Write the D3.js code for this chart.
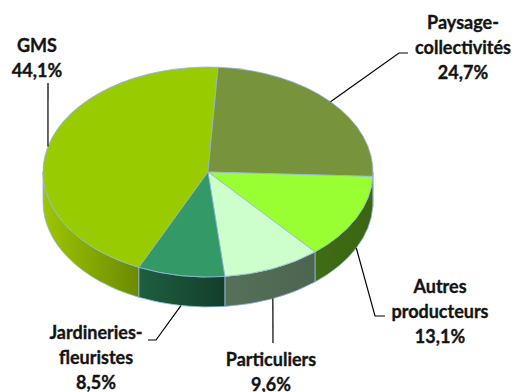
<!DOCTYPE html>
<html>
<head>
<meta charset="utf-8">
<script src="https://cdn.jsdelivr.net/npm/d3@7"></script>
<style>
  html, body { margin: 0; padding: 0; background: #fff; }
  svg { display: block; }
  text { font-family: "Lato", "Open Sans", sans-serif; font-weight: bold; fill: #141414; stroke: #141414; stroke-width: 0.35; }
</style>
</head>
<body>
<svg id="chart" width="515" height="392"></svg>
<script>
// Répartition des ventes par circuit de distribution (%)
const categories = ["GMS", "Paysage-collectivités", "Autres producteurs", "Particuliers", "Jardineries-fleuristes"];
const labelLines = [["GMS"], ["Paysage-", "collectivités"], ["Autres", "producteurs"], ["Particuliers"], ["Jardineries-", "fleuristes"]];
const values = [44.1, 24.7, 13.1, 9.6, 8.5];
const topColors = ["#99cc00", "#77933c", "#99ff33", "#ccffcc", "#339966"];
const sideColors = [["#9dc600", "#6c8a00"], ["#5d7530", "#5d7530"], ["#3f6c15", "#3b6512"], ["#567059", "#4d6550"], ["#1f5f40", "#133e2a"]];

const svg = d3.select("#chart");
const cx = 208, cy = 172, rx = 165, ry = 105, depth = 30;
const deg = Math.PI / 180;

// Angles clockwise from 12 o'clock; GMS ends just past the top.
const start0 = 3.5 * deg - (values[0] / 100) * 2 * Math.PI;
const pie = d3.pie().sort(null).value(d => d)
  .startAngle(start0).endAngle(start0 + 2 * Math.PI);
const arcs = pie(values);

const pt = (a, dy = 0) => [cx + rx * Math.sin(a), cy - ry * Math.cos(a) + dy];
const fmt = v => v.toFixed(1).replace(".", ",") + "%";

const defs = svg.append("defs");
const edge = "#93b6dc";

// Visible wall of each slice: the part lying on the front half of the ellipse
function sidePath(a0, a1) {
  const segs = [];
  for (const k of [-1, 0, 1]) {
    const s = Math.max(a0 + k * 2 * Math.PI, 90 * deg);
    const e = Math.min(a1 + k * 2 * Math.PI, 270 * deg);
    if (e > s) segs.push([s, e]);
  }
  return segs;
}

const sides = svg.append("g");
arcs.forEach((d, i) => {
  sidePath(d.startAngle, d.endAngle).forEach(([s, e], j) => {
    const p0 = pt(s), p1 = pt(e), q1 = pt(e, depth), q0 = pt(s, depth);
    const large = (e - s) > Math.PI ? 1 : 0;
    const gid = `side-${i}-${j}`;
    const xs = [p0[0], p1[0]];
    const g = defs.append("linearGradient").attr("id", gid)
      .attr("gradientUnits", "userSpaceOnUse")
      .attr("x1", d3.min(xs)).attr("x2", d3.max(xs)).attr("y1", 0).attr("y2", 0);
    g.append("stop").attr("offset", 0).attr("stop-color", sideColors[i][0]);
    g.append("stop").attr("offset", 1).attr("stop-color", sideColors[i][1]);
    const path = `M${p0}A${rx},${ry} 0 ${large} 1 ${p1}L${q1}A${rx},${ry} 0 ${large} 0 ${q0}Z`;
    sides.append("path").attr("d", path).attr("fill", `url(#${gid})`)
      .attr("stroke", edge).attr("stroke-width", 0.8).attr("stroke-linejoin", "round");
  });
});

// Top faces
const tops = svg.append("g");
arcs.forEach((d, i) => {
  const p0 = pt(d.startAngle), p1 = pt(d.endAngle);
  const large = (d.endAngle - d.startAngle) > Math.PI ? 1 : 0;
  tops.append("path")
    .attr("d", `M${cx},${cy}L${p0}A${rx},${ry} 0 ${large} 1 ${p1}Z`)
    .attr("fill", topColors[i]).attr("stroke", edge).attr("stroke-width", 0.8)
    .attr("stroke-linejoin", "round");
});

// Labels and leader lines
const labelPos = [
  { x: 37, y: 52, bend: [48, 83], tail: null },
  { x: 463, y: 29, bend: [399, 53], tail: [408, 53] },
  { x: 440, y: 293, bend: [375, 316], tail: [385, 316] },
  { x: 271, y: 366, bend: [273, 343], tail: null },
  { x: 96, y: 339, bend: [156, 340], tail: [148, 340] }
];
const lineH = 25;

const leaders = svg.append("g").attr("fill", "none").attr("stroke", "#000").attr("stroke-width", 1.2);
arcs.forEach((d, i) => {
  const mid = (d.startAngle + d.endAngle) / 2;
  const front = Math.cos(mid) < 0;
  const start = pt(mid, front ? depth : 0);
  const L = labelPos[i];
  const pts = [start, L.bend];
  if (L.tail) pts.push(L.tail);
  leaders.append("path").attr("d", d3.line()(pts));

  const t = svg.append("text").attr("text-anchor", "middle").attr("font-size", 18);
  const lines = labelLines[i].concat([fmt(values[i])]);
  lines.forEach((s, k) => {
    t.append("tspan").attr("x", L.x).attr("y", L.y + k * lineH).text(s);
  });
});
</script>
</body>
</html>
